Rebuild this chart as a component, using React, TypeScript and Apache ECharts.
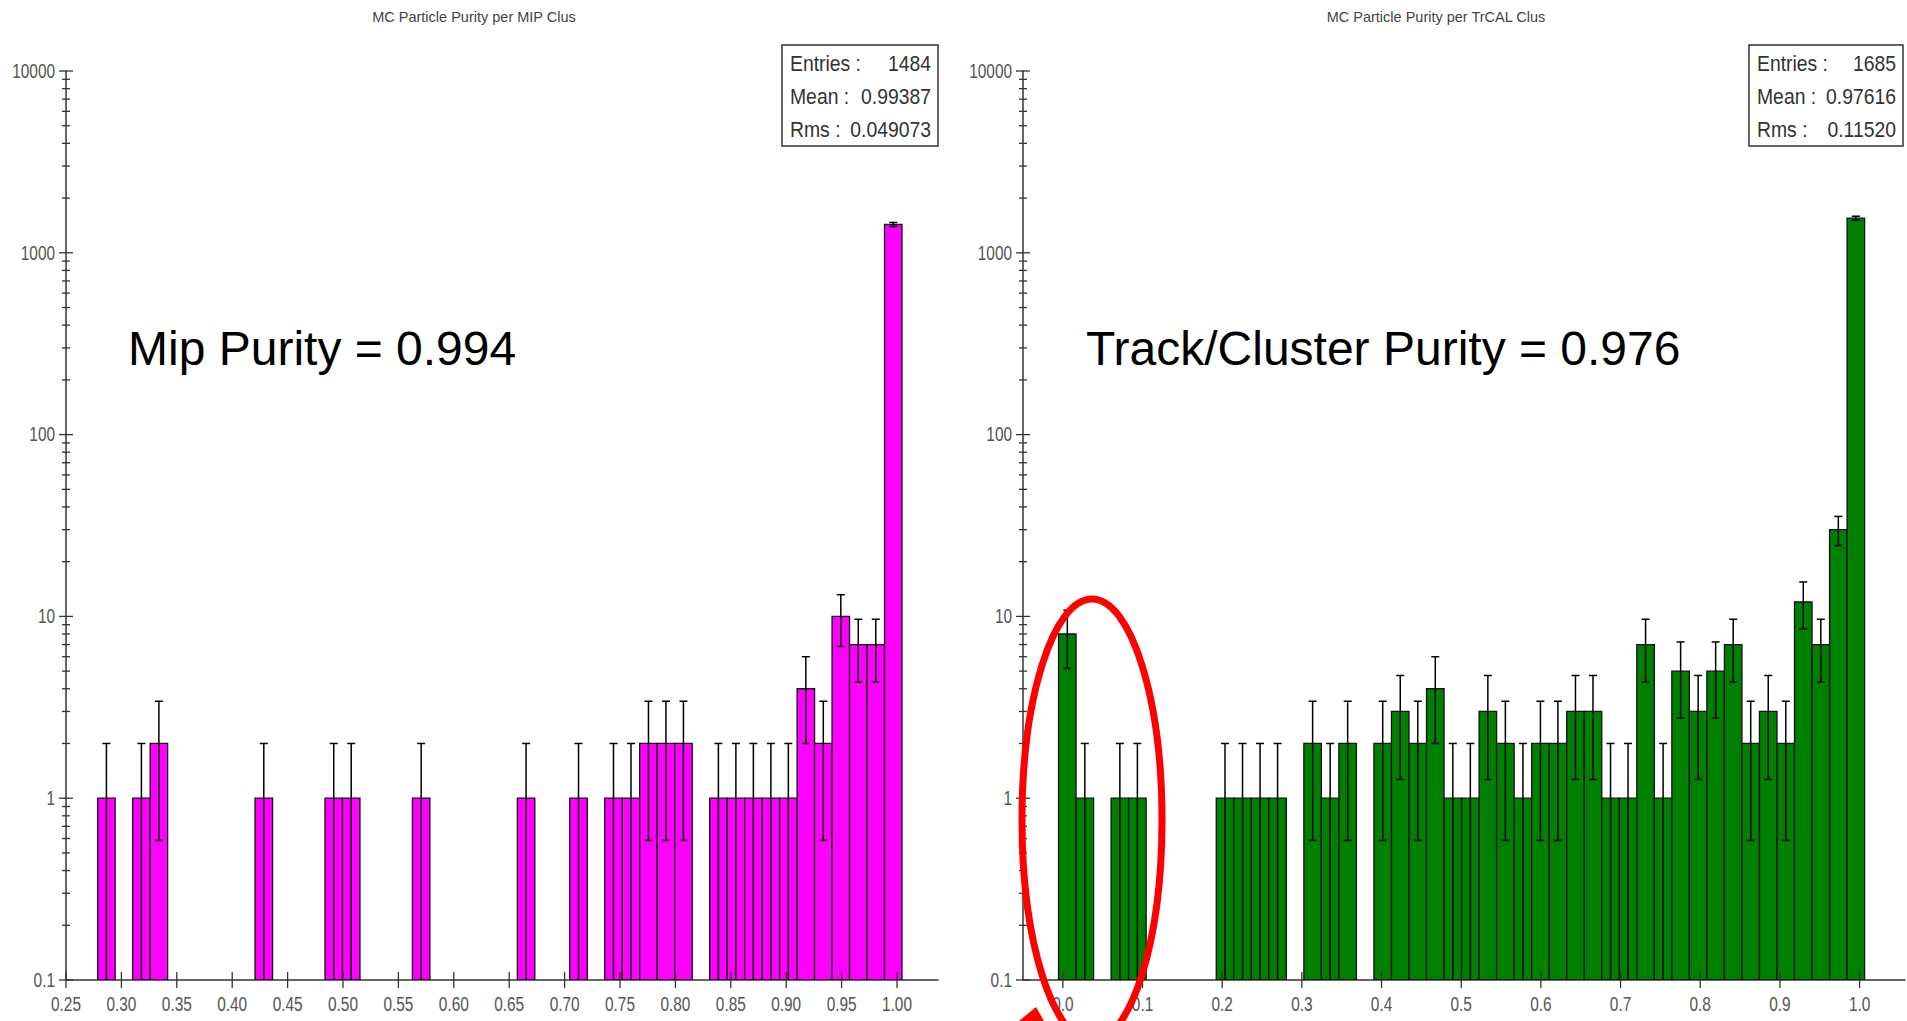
import React, { useEffect, useRef } from "react";
import * as echarts from "echarts";

// ---- histogram contents (46 equal-width bins over each range) ----
const MIP_TITLE = "MC Particle Purity per MIP Clus";
const MIP_RANGE = [0.2786, 1.0045];
const MIP_COUNTS = [
  1, 0, 1, 2, 0, 0, 0, 0, 0, 1,
  0, 0, 0, 1, 1, 0, 0, 0, 1, 0,
  0, 0, 0, 0, 1, 0, 0, 1, 0, 1,
  1, 2, 2, 2, 0, 1, 1, 1, 1, 1,
  4, 2, 10, 7, 7, 1431,
];
const MIP_STATS = [
  ["Entries :", "1484"],
  ["Mean :", "0.99387"],
  ["Rms :", "0.049073"],
];
const MIP_XTICKS = [0.25, 0.3, 0.35, 0.4, 0.45, 0.5, 0.55, 0.6, 0.65, 0.7, 0.75, 0.8, 0.85, 0.9, 0.95, 1.0];
const MIP_NOTE = "Mip Purity = 0.994";

const TRCAL_TITLE = "MC Particle Purity per TrCAL Clus";
const TRCAL_RANGE = [-0.0054, 1.0063];
const TRCAL_COUNTS = [
  8, 1, 0, 1, 1, 0, 0, 0, 0, 1,
  1, 1, 1, 0, 2, 1, 2, 0, 2, 3,
  2, 4, 1, 1, 3, 2, 1, 2, 2, 3,
  3, 1, 1, 7, 1, 5, 3, 5, 7, 2,
  3, 2, 12, 7, 30, 1550,
];
const TRCAL_STATS = [
  ["Entries :", "1685"],
  ["Mean :", "0.97616"],
  ["Rms :", "0.11520"],
];
const TRCAL_XTICKS = [0, 0.1, 0.2, 0.3, 0.4, 0.5, 0.6, 0.7, 0.8, 0.9, 1.0];
const TRCAL_NOTE = "Track/Cluster Purity = 0.976";

// log-axis tick layout
const Y_DECADES = [0.1, 1, 10, 100, 1000, 10000];
const Y_MINOR_MANTISSAS = [2, 3, 4, 5, 6, 7, 8, 9];

const ARIAL = "'Liberation Sans', Arial, Helvetica, sans-serif";
const SQUEEZE = 0.77; // horizontal squeeze of the axis lettering

const GRID_TOP = 71;
const GRID_HEIGHT = 909;
const Y_MIN = 0.1;
const Y_MAX = 10000;

const PANELS = [
  {
    title: MIP_TITLE, range: MIP_RANGE, counts: MIP_COUNTS, stats: MIP_STATS,
    ticks: MIP_XTICKS, digits: 2, note: MIP_NOTE,
    color: "#ff00ff", gridLeft: 66, gridWidth: 872, xMin: 0.25, xMax: 1.037,
    titleX: 474, boxX: 782, boxW: 156, noteX: 128,
  },
  {
    title: TRCAL_TITLE, range: TRCAL_RANGE, counts: TRCAL_COUNTS, stats: TRCAL_STATS,
    ticks: TRCAL_XTICKS, digits: 1, note: TRCAL_NOTE,
    color: "#008000", gridLeft: 1023, gridWidth: 882, xMin: -0.05, xMax: 1.057,
    titleX: 1436, boxX: 1749, boxW: 154, noteX: 1086,
  },
];

function binRows(range: number[], counts: number[]) {
  const w = (range[1] - range[0]) / counts.length;
  const rows: number[][] = [];
  counts.forEach((c, i) => {
    if (c > 0) rows.push([range[0] + i * w, range[0] + (i + 1) * w, c]);
  });
  return rows;
}

function fmtY(v: number) {
  return v < 1 ? String(Number(v.toPrecision(3))) : String(Math.round(v));
}

function buildOption() {
  const grid: any[] = [];
  const xAxis: any[] = [];
  const yAxis: any[] = [];
  const series: any[] = [];
  const graphic: any[] = [];

  PANELS.forEach((p, gi) => {
    grid.push({ left: p.gridLeft, top: GRID_TOP, width: p.gridWidth, height: GRID_HEIGHT });
    xAxis.push({
      type: "value",
      gridIndex: gi,
      min: p.xMin,
      max: p.xMax,
      axisLine: { show: true, onZero: false, lineStyle: { color: "#333", width: 1.5 } },
      axisTick: { show: false },
      axisLabel: { show: false },
      splitLine: { show: false },
    });
    yAxis.push({
      type: "log",
      logBase: 10,
      gridIndex: gi,
      min: Y_MIN,
      max: Y_MAX,
      axisLine: { show: true, onZero: false, lineStyle: { color: "#333", width: 1.5 } },
      axisTick: { show: false },
      axisLabel: { show: false },
      splitLine: { show: false },
    });

    const rows = binRows(p.range, p.counts);

    // filled histogram bins
    series.push({
      type: "custom",
      xAxisIndex: gi,
      yAxisIndex: gi,
      data: rows,
      encode: { x: [0, 1], y: 2 },
      clip: true,
      renderItem: (params: any, api: any) => {
        const a = api.coord([api.value(0), api.value(2)]);
        const b = api.coord([api.value(1), Y_MIN]);
        return {
          type: "rect",
          shape: { x: a[0], y: a[1], width: b[0] - a[0], height: b[1] - a[1] },
          style: { fill: p.color, stroke: "#111", lineWidth: 1.3 },
        };
      },
    });

    // sqrt(N) error bars at bin centres
    series.push({
      type: "custom",
      xAxisIndex: gi,
      yAxisIndex: gi,
      data: rows.map((r) => [(r[0] + r[1]) / 2, r[2]]),
      encode: { x: 0, y: 1 },
      clip: true,
      renderItem: (params: any, api: any) => {
        const xc = api.value(0);
        const c = api.value(1);
        const e = Math.sqrt(c);
        const hi = c + e;
        const lo = c - e;
        const top = api.coord([xc, hi]);
        const bot = api.coord([xc, lo >= Y_MIN ? lo : Y_MIN]);
        const cap = 4;
        const st = { stroke: "#000", lineWidth: 1.5 };
        const children: any[] = [
          { type: "line", shape: { x1: top[0], y1: top[1], x2: bot[0], y2: bot[1] }, style: st },
          { type: "line", shape: { x1: top[0] - cap, y1: top[1], x2: top[0] + cap, y2: top[1] }, style: st },
        ];
        if (lo >= Y_MIN) {
          children.push({ type: "line", shape: { x1: bot[0] - cap, y1: bot[1], x2: bot[0] + cap, y2: bot[1] }, style: st });
        }
        return { type: "group", children };
      },
    });

    // axis ticks crossing the axis lines (major with labels, log-minor without)
    const tickRows: number[][] = [];
    const tickLabels: string[] = [];
    p.ticks.forEach((v) => {
      tickRows.push([v, Y_MIN, 0, 8]);
      tickLabels.push(v.toFixed(p.digits));
    });
    Y_DECADES.forEach((d) => {
      tickRows.push([p.xMin, d, 1, 7]);
      tickLabels.push(fmtY(d));
    });
    Y_DECADES.slice(0, -1).forEach((d) =>
      Y_MINOR_MANTISSAS.forEach((m) => {
        tickRows.push([p.xMin, m * d, 1, 4]);
        tickLabels.push("");
      })
    );
    series.push({
      type: "custom",
      xAxisIndex: gi,
      yAxisIndex: gi,
      data: tickRows,
      encode: { x: 0, y: 1 },
      clip: false,
      silent: true,
      z: 5,
      renderItem: (params: any, api: any) => {
        const pt = api.coord([api.value(0), api.value(1)]);
        const h = api.value(3);
        const isX = api.value(2) === 0;
        const label = tickLabels[params.dataIndex];
        const shape = isX
          ? { x1: pt[0], y1: pt[1] - h, x2: pt[0], y2: pt[1] + h }
          : { x1: pt[0] - h, y1: pt[1], x2: pt[0] + h, y2: pt[1] };
        const children: any[] = [
          { type: "line", shape, style: { stroke: "#333", lineWidth: 1.3 } },
        ];
        if (label) {
          children.push({
            type: "text",
            x: isX ? pt[0] : pt[0] - 11,
            y: isX ? pt[1] + 24 : pt[1],
            scaleX: SQUEEZE,
            style: {
              text: label,
              font: `20px ${ARIAL}`,
              fill: "#555",
              align: isX ? "center" : "right",
              verticalAlign: "middle",
            },
          });
        }
        return { type: "group", children };
      },
    });

    // panel title
    graphic.push({
      type: "text",
      x: p.titleX,
      y: 17,
      style: { text: p.title, fill: "#444", font: `14.5px ${ARIAL}`, align: "center", verticalAlign: "middle" },
    });

    // statistics box
    const boxTop = 45;
    const boxH = 101;
    const rowYs = [63, 96, 129];
    graphic.push({
      type: "rect",
      shape: { x: p.boxX, y: boxTop, width: p.boxW, height: boxH },
      style: { fill: "#fff", stroke: "#333", lineWidth: 1.5 },
      z: 50,
    });
    p.stats.forEach((s, k) => {
      graphic.push({
        type: "text",
        x: p.boxX + 8,
        y: rowYs[k],
        z: 51,
        scaleX: 0.88,
        style: { text: s[0], fill: "#333", font: `22px ${ARIAL}`, align: "left", verticalAlign: "middle" },
      });
      graphic.push({
        type: "text",
        x: p.boxX + p.boxW - 7,
        y: rowYs[k],
        z: 51,
        scaleX: 0.88,
        style: { text: s[1], fill: "#333", font: `22px ${ARIAL}`, align: "right", verticalAlign: "middle" },
      });
    });

    // purity annotation
    graphic.push({
      type: "text",
      x: p.noteX,
      y: 348,
      z: 60,
      style: { text: p.note, fill: "#000", font: `48px ${ARIAL}`, align: "left", verticalAlign: "middle" },
    });
  });

  // red highlight around the lowest-purity TrCAL bins
  graphic.push({
    type: "ellipse",
    shape: { cx: 1092, cy: 820, rx: 70, ry: 221 },
    style: { fill: "transparent", stroke: "#ff0000", lineWidth: 7 },
    z: 100,
  });
  graphic.push({
    type: "polygon",
    shape: { points: [[1036, 1007], [1019, 1021], [1044, 1021]] },
    style: { fill: "#ff0000" },
    z: 100,
  });

  return {
    animation: false,
    backgroundColor: "#ffffff",
    grid,
    xAxis,
    yAxis,
    series,
    graphic,
  };
}

export default function App() {
  const ref = useRef<HTMLDivElement>(null);

  useEffect(() => {
    document.body.style.margin = "0";
    document.body.style.overflow = "hidden";
    if (!ref.current) return;
    const chart = echarts.init(ref.current, undefined, { renderer: "svg" });
    chart.setOption(buildOption() as any);
    return () => chart.dispose();
  }, []);

  return <div ref={ref} style={{ width: 1907, height: 1021, background: "#fff" }} />;
}
